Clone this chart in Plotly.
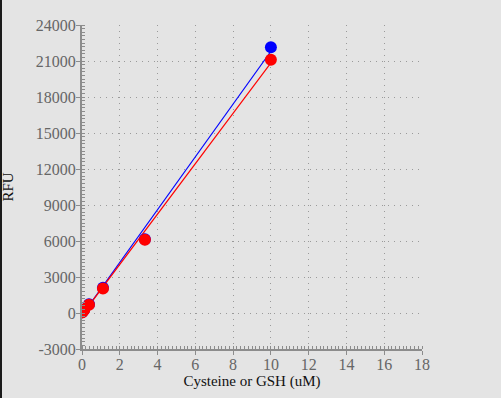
import numpy as np
import plotly.graph_objects as go

conc = [0, 0.0412, 0.123, 0.37, 1.11, 3.33, 10]
gsh_rfu = [60, 150, 300, 720, 2100, 6150, 22150]
cys_rfu = [50, 130, 280, 680, 2050, 6100, 21100]
x_ticks = [0, 2, 4, 6, 8, 10, 12, 14, 16, 18]
y_ticks = [-3000, 0, 3000, 6000, 9000, 12000, 15000, 18000, 21000, 24000]

def fit_line(x, y):
    m, b = np.polyfit(x, y, 1)
    xs = [min(x), max(x)]
    return xs, [m * v + b for v in xs]

fig = go.Figure()
bx, by = fit_line(conc, gsh_rfu)
rx, ry = fit_line(conc, cys_rfu)
fig.add_trace(go.Scatter(x=bx, y=by, mode="lines", line=dict(color="blue", width=1.2), showlegend=False))
fig.add_trace(go.Scatter(x=rx, y=ry, mode="lines", line=dict(color="red", width=1.2), showlegend=False))
fig.add_trace(go.Scatter(x=conc, y=gsh_rfu, mode="markers", marker=dict(color="blue", size=12), showlegend=False))
fig.add_trace(go.Scatter(x=conc, y=cys_rfu, mode="markers", marker=dict(color="red", size=12), showlegend=False))

tick_font = dict(family="Liberation Serif, Times New Roman, serif", size=16, color="#666666")
title_font = dict(family="Liberation Serif, Times New Roman, serif", size=15, color="#111111")

axis_common = dict(
    showline=True, linecolor="#8c8c8c", linewidth=2,
    ticks="outside", ticklen=4, tickwidth=1, tickcolor="#8c8c8c",
    showgrid=True, gridcolor="#9a9a9a", griddash="1px,5px", gridwidth=1,
    zeroline=False, automargin=False,
    tickfont=tick_font,
    minor=dict(ticks="inside", ticklen=3, tickcolor="#8c8c8c", showgrid=False),
)

fig.update_xaxes(
    range=[0, 18], tickvals=x_ticks, ticktext=[str(v) for v in x_ticks],
    title=dict(text="Cysteine or GSH (uM)", font=title_font, standoff=2),
    **axis_common,
)
fig.update_yaxes(
    range=[-3000, 24000], tickvals=y_ticks, ticktext=[str(v) for v in y_ticks],
    title=dict(text="RFU", font=title_font, standoff=25),
    **axis_common,
)
fig.update_xaxes(minor=dict(dtick=0.2), ticklabelstandoff=-4)
fig.update_yaxes(minor=dict(dtick=300), ticklabelstandoff=-3)

fig.update_layout(
    width=501, height=398,
    margin=dict(l=82, r=79, t=25, b=49),
    paper_bgcolor="#e4e4e4", plot_bgcolor="#e4e4e4",
    showlegend=False,
)
post = (
    "document.body.style.margin='0';"
    "document.body.style.background='#e4e4e4';"
    "var s=document.createElement('div');"
    "s.style.cssText='position:fixed;left:0;top:0;width:2px;height:100%;background:#1a1a1a;z-index:10;';"
    "document.body.appendChild(s);"
)
fig.write_html("out.html", post_script=post, config={"displayModeBar": False})
